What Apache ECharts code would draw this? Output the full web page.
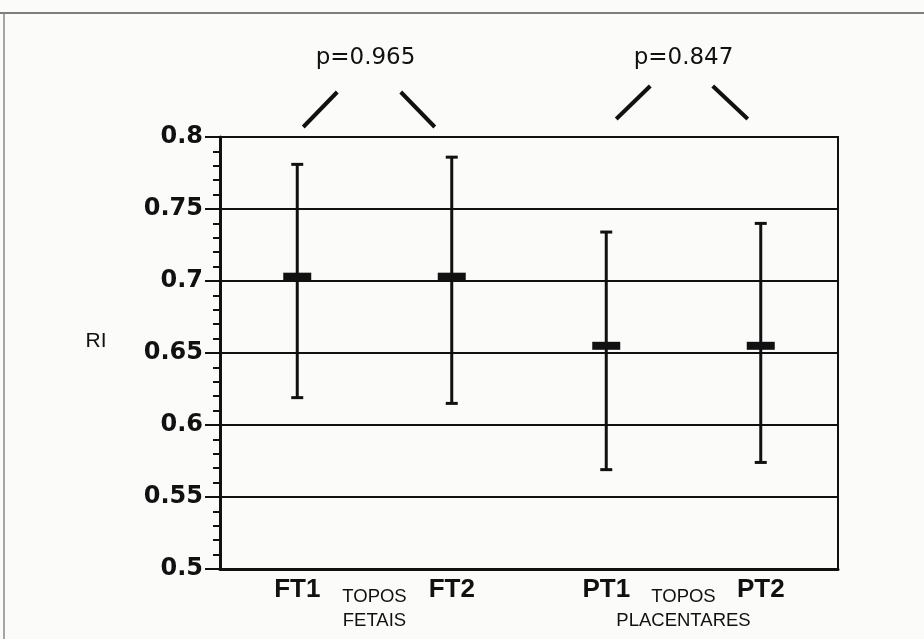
<!DOCTYPE html>
<html>
<head>
<meta charset="utf-8">
<script src="https://cdn.jsdelivr.net/npm/echarts@6/dist/echarts.min.js"></script>
<style>
  html, body { margin: 0; padding: 0; background: #fbfbfa; }
  #chart { width: 924px; height: 639px; }
</style>
</head>
<body>
<div id="chart"></div>
<script>
var categories = ['FT1', 'FT2', 'PT1', 'PT2'];
var meanValues = [0.703, 0.703, 0.655, 0.655];
var lowValues = [0.619, 0.615, 0.569, 0.574];
var highValues = [0.781, 0.786, 0.734, 0.740];
var pLabels = ['p=0.965', 'p=0.847'];
var groupLabels = [['TOPOS', 'FETAIS'], ['TOPOS', 'PLACENTARES']];
var groups = [[0, 1], [2, 3]];

var FONT = 'DejaVu Sans';
var SANS = 'Liberation Sans';
var INK = '#111';

var dom = document.getElementById('chart');
var myChart = echarts.init(dom, null, { renderer: 'canvas' });

function renderItem(params, api) {
  var x = api.coord([api.value(0), api.value(1)])[0];
  var lo = api.coord([api.value(0), api.value(1)])[1];
  var hi = api.coord([api.value(0), api.value(2)])[1];
  var mid = api.coord([api.value(0), api.value(3)])[1];
  var st = { stroke: INK, lineWidth: 3 };
  return {
    type: 'group',
    children: [
      { type: 'line', shape: { x1: x, y1: hi, x2: x, y2: lo }, style: st },
      { type: 'line', shape: { x1: x - 6, y1: hi, x2: x + 6, y2: hi }, style: st },
      { type: 'line', shape: { x1: x - 6, y1: lo, x2: x + 6, y2: lo }, style: st },
      { type: 'rect', shape: { x: x - 14, y: mid - 4, width: 28, height: 8 }, style: { fill: INK } }
    ]
  };
}

var option = {
  backgroundColor: '#fbfbfa',
  animation: false,
  grid: {
    left: 220, right: 86, top: 137, bottom: 70,
    show: true, borderColor: INK, borderWidth: 2, backgroundColor: 'transparent'
  },
  xAxis: {
    type: 'category',
    data: categories,
    boundaryGap: true,
    axisLine: { lineStyle: { color: INK, width: 3 } },
    axisTick: { show: false },
    axisLabel: {
      margin: 8,
      color: INK,
      fontFamily: SANS,
      fontWeight: 'bold',
      fontSize: 26
    },
    splitLine: { show: false }
  },
  yAxis: {
    type: 'value',
    min: 0.5,
    max: 0.8,
    interval: 0.05,
    axisLine: { show: true, lineStyle: { color: INK, width: 3 } },
    axisTick: { show: true, length: 15, lineStyle: { color: INK, width: 2 } },
    minorTick: { show: true, splitNumber: 5, length: 7, lineStyle: { color: INK, width: 2 } },
    axisLabel: {
      margin: 17,
      color: INK,
      fontFamily: FONT,
      fontWeight: 'bold',
      fontSize: 24
    },
    splitLine: { show: true, lineStyle: { color: INK, width: 2 } }
  },
  series: [{
    type: 'custom',
    renderItem: renderItem,
    encode: { x: 0, y: [1, 2, 3] },
    data: categories.map(function (c, i) {
      return [i, lowValues[i], highValues[i], meanValues[i]];
    }),
    z: 10
  }]
};

myChart.setOption(option);

// annotations placed from axis coordinates
var topY = myChart.convertToPixel({ gridIndex: 0 }, [0, 0.8])[1];
var botY = myChart.convertToPixel({ gridIndex: 0 }, [0, 0.5])[1];
var graphics = [];

// scanned page frame
graphics.push({ type: 'line', shape: { x1: 0, y1: 13, x2: 924, y2: 13 }, style: { stroke: '#555', lineWidth: 1.5 } });
graphics.push({ type: 'line', shape: { x1: 4, y1: 13, x2: 4, y2: 639 }, style: { stroke: '#888', lineWidth: 1.5 } });

graphics.push({
  type: 'text', x: 96, y: (topY + botY) / 2 - 12,
  style: { text: 'RI', font: '21px "' + SANS + '"', fill: INK, align: 'center', verticalAlign: 'middle' }
});

var slashOffsets = [
  { l: [6, -10, 40, -45], r: [-51, -45, -17, -10] },
  { l: [10, -18, 44, -51], r: [-48, -51, -13, -18] }
];

groups.forEach(function (g, k) {
  var xa = myChart.convertToPixel({ gridIndex: 0 }, [g[0], 0.8])[0];
  var xb = myChart.convertToPixel({ gridIndex: 0 }, [g[1], 0.8])[0];
  var mid = (xa + xb) / 2;
  var o = slashOffsets[k];
  var ls = { stroke: INK, lineWidth: 4 };
  graphics.push({ type: 'line', shape: { x1: xa + o.l[0], y1: topY + o.l[1], x2: xa + o.l[2], y2: topY + o.l[3] }, style: ls });
  graphics.push({ type: 'line', shape: { x1: xb + o.r[0], y1: topY + o.r[1], x2: xb + o.r[2], y2: topY + o.r[3] }, style: ls });
  graphics.push({
    type: 'text', x: mid + (k === 0 ? -9 : 0), y: topY - 79,
    style: { text: pLabels[k], font: '23px "' + FONT + '"', fill: INK, align: 'center', verticalAlign: 'middle' }
  });
  graphics.push({
    type: 'text', x: mid, y: botY + 28,
    style: { text: groupLabels[k][0], font: '18.5px "' + SANS + '"', fill: INK, align: 'center', verticalAlign: 'middle' }
  });
  graphics.push({
    type: 'text', x: mid, y: botY + 52,
    style: { text: groupLabels[k][1], font: '18.5px "' + SANS + '"', fill: INK, align: 'center', verticalAlign: 'middle' }
  });
});

myChart.setOption({ graphic: graphics });

window.addEventListener('resize', function () {
  myChart.resize();
});
</script>
</body>
</html>
